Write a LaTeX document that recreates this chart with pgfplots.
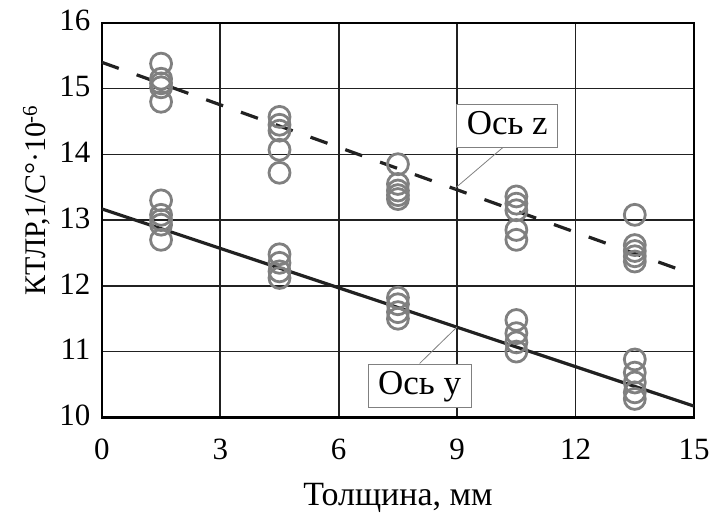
\documentclass[border=0pt]{standalone}
\usepackage{fontspec}
\setmainfont{Liberation Serif}
\usepackage{pgfplots}
\pgfplotsset{compat=1.18}
\definecolor{mk}{gray}{0.5}
\definecolor{ln}{gray}{0.13}
\begin{document}
\begin{tikzpicture}[font=\fontsize{31bp}{36bp}\selectfont]
\begin{axis}[
  scale only axis, width=593bp, height=395bp,
  xmin=0, xmax=15, ymin=10, ymax=16,
  xtick={0,3,6,9,12,15}, ytick={10,11,12,13,14,15,16},
  grid=major, major grid style={ln, line width=1.6bp},
  axis line style={black, line width=2.4bp},
  tick style={draw=none},
  /pgf/number format/assume math mode=true,
  xticklabel style={yshift=-18bp},
  yticklabel style={xshift=-8bp, yshift=2bp},
  xlabel={\fontsize{34bp}{40bp}\selectfont Толщина, мм},
  ylabel={\fontsize{30bp}{36bp}\selectfont КТЛР,1/C°·10\textsuperscript{-6}},
  xlabel style={at={(axis description cs:0.5,-0.205)}, anchor=center},
  ylabel style={at={(axis description cs:-0.11,0.55)}, anchor=center},
  clip=false,
]
% Ось z data
\addplot[only marks, mark=o, mark size=10.5bp, mark options={draw=mk, line width=2.8bp}] coordinates {
 (1.5,15.38) (1.5,15.15) (1.5,15.08) (1.5,15.02) (1.5,14.80)
 (4.5,14.57) (4.5,14.45) (4.5,14.36) (4.5,14.07) (4.5,13.72)
 (7.5,13.85) (7.5,13.55) (7.5,13.45) (7.5,13.38) (7.5,13.32)
 (10.5,13.36) (10.5,13.25) (10.5,13.15) (10.5,12.85) (10.5,12.70)
 (13.5,13.08) (13.5,12.62) (13.5,12.53) (13.5,12.45) (13.5,12.37)
};
% Ось y data
\addplot[only marks, mark=o, mark size=10.5bp, mark options={draw=mk, line width=2.8bp}] coordinates {
 (1.5,13.30) (1.5,13.08) (1.5,13.00) (1.5,12.93) (1.5,12.70)
 (4.5,12.48) (4.5,12.35) (4.5,12.22) (4.5,12.12)
 (7.5,11.82) (7.5,11.72) (7.5,11.60) (7.5,11.50)
 (10.5,11.48) (10.5,11.28) (10.5,11.14) (10.5,11.00)
 (13.5,10.88) (13.5,10.68) (13.5,10.53) (13.5,10.38) (13.5,10.28)
};
\addplot[ln, line width=3.2bp, dash pattern=on 18bp off 19bp] coordinates {(0,15.40) (14.62,12.25)};
\addplot[ln, line width=3.2bp] coordinates {(0,13.17) (15,10.17)};
% annotations
\draw[mk, line width=0.8bp] (axis cs:8.94,13.48) -- (axis cs:10.15,14.1);
\node[draw=mk, line width=0.8bp, fill=white, inner xsep=10bp, inner ysep=5bp, text height=25bp, text depth=8bp, text=black, font=\fontsize{35bp}{40bp}\selectfont] at (axis cs:10.27,14.43) {Ось z};
\draw[mk, line width=0.8bp] (axis cs:8.99,11.37) -- (axis cs:8.05,10.82);
\node[draw=mk, line width=0.8bp, fill=white, inner xsep=10bp, inner ysep=5bp, text height=25bp, text depth=8bp, text=black, font=\fontsize{35bp}{40bp}\selectfont] at (axis cs:8.05,10.48) {Ось y};
\coordinate (bl) at (axis description cs:-0.172,-0.2456);
\coordinate (tr) at (axis description cs:1.0388,1.058);
\end{axis}
\pgfresetboundingbox
\path[use as bounding box] (bl) rectangle (tr);
\end{tikzpicture}
\end{document}
